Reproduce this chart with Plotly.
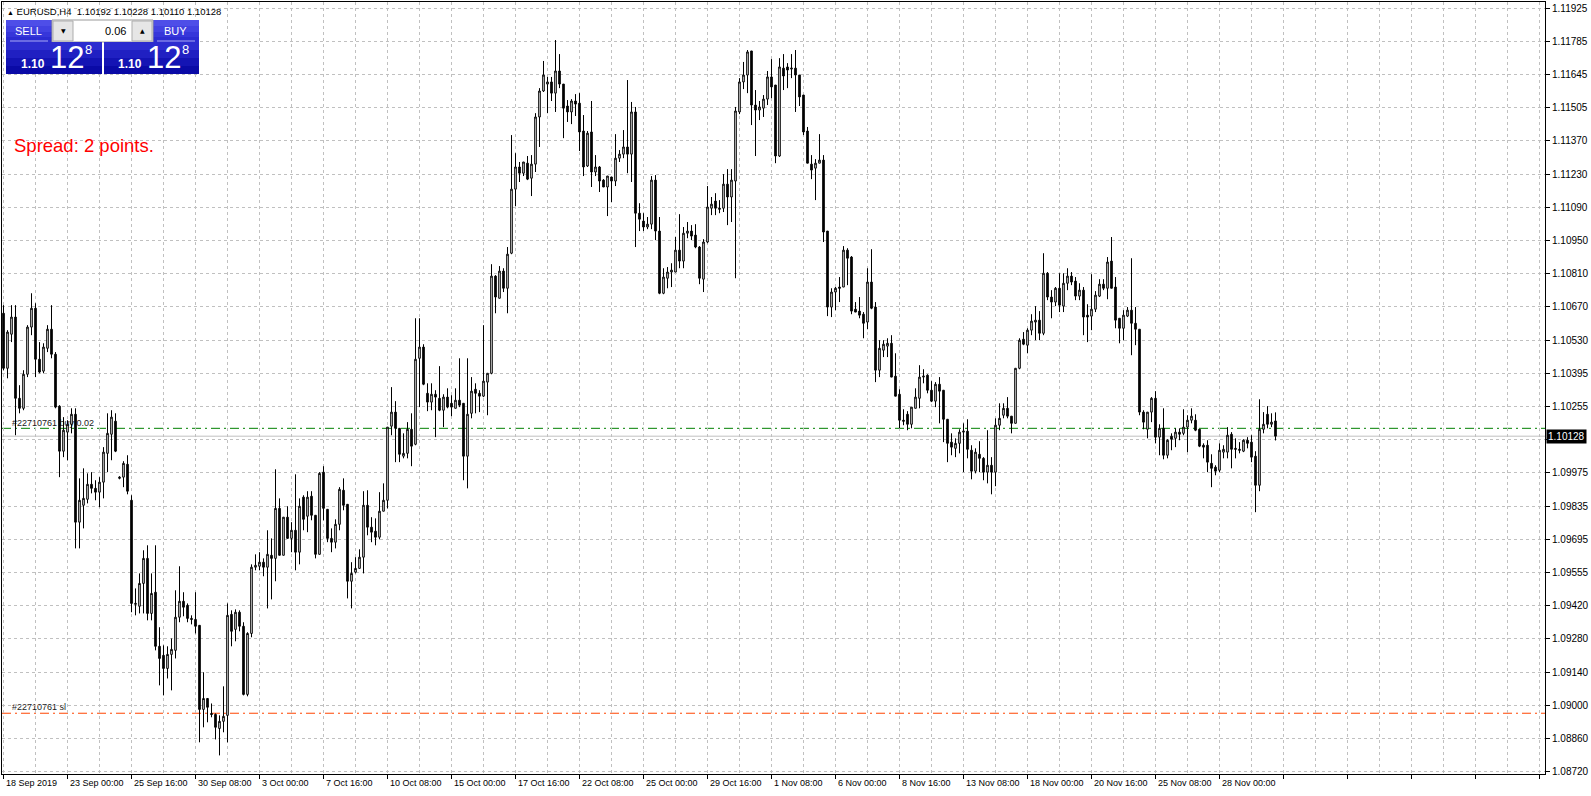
import plotly.graph_objects as go
import numpy as np

# ---------------- data (EURUSD H4) ----------------
open_ = [
1.10644,1.10413,1.10556,1.10628,1.10287,1.10245,1.10388,1.10586,1.10665,1.10451,
1.10401,1.10497,1.10577,1.10472,1.10254,1.10065,1.10145,1.10178,1.10220,1.09767,
1.09838,1.09863,1.09926,1.09909,1.09893,1.09935,1.10056,1.10136,1.10191,1.09951,
1.09956,1.10010,1.09859,1.09422,1.09414,1.09510,1.09615,1.09384,1.09473,1.09246,
1.09208,1.09153,1.09212,1.09229,1.09368,1.09435,1.09418,1.09363,1.09359,1.09334,
1.08981,1.09027,1.08964,1.08960,1.08901,1.08931,1.08956,1.09380,1.09317,1.09389,
1.09330,1.09044,1.09300,1.09578,1.09582,1.09599,1.09578,1.09628,1.09615,1.09825,
1.09628,1.09788,1.09699,1.09733,1.09641,1.09872,1.09792,1.09876,1.09796,1.09632,
1.09977,1.09821,1.09699,1.09683,1.09758,1.09901,1.09842,1.09519,1.09557,1.09573,
1.09620,1.09838,1.09746,1.09729,1.09704,1.09813,1.09859,1.10170,1.10229,1.10161,
1.10044,1.10056,1.10157,1.10094,1.10455,1.10502,1.10308,1.10271,1.10304,1.10287,
1.10237,1.10292,1.10266,1.10245,1.10279,1.10266,1.10044,1.10224,1.10325,1.10308,
1.10296,1.10355,1.10392,1.10800,1.10707,1.10821,1.10749,1.10896,1.11165,1.11258,
1.11232,1.11274,1.11211,1.11270,1.11468,1.11577,1.11606,1.11615,1.11568,1.11661,
1.11606,1.11514,1.11489,1.11535,1.11526,1.11409,1.11262,1.11405,1.11237,1.11258,
1.11203,1.11174,1.11216,1.11199,1.11295,1.11312,1.11342,1.11312,1.11489,1.11064,
1.11031,1.11006,1.11018,1.11203,1.10989,1.10728,1.10791,1.10817,1.10817,1.10909,
1.10863,1.10980,1.10989,1.10972,1.10922,1.10787,1.10943,1.11085,1.11115,1.11085,
1.11085,1.11186,1.11132,1.11199,1.11489,1.11615,1.11644,1.11745,1.11518,1.11497,
1.11505,1.11543,1.11636,1.11602,1.11304,1.11673,1.11678,1.11669,1.11673,1.11644,
1.11560,1.11409,1.11270,1.11253,1.11274,1.11287,1.10989,1.10670,1.10733,1.10754,
1.10754,1.10909,1.10880,1.10661,1.10653,1.10640,1.10607,1.10775,1.10670,1.10405,
1.10489,1.10506,1.10518,1.10380,1.10304,1.10195,1.10220,1.10178,1.10245,1.10287,
1.10376,1.10384,1.10321,1.10275,1.10346,1.10321,1.10199,1.10103,1.10077,1.10098,
1.10145,1.10149,1.10069,1.09981,1.10052,1.10035,1.09977,1.10006,1.09977,1.10174,
1.10216,1.10245,1.10212,1.10182,1.10413,1.10535,1.10510,1.10573,1.10607,1.10615,
1.10560,1.10812,1.10712,1.10691,1.10749,1.10674,1.10770,1.10800,1.10779,1.10716,
1.10741,1.10636,1.10632,1.10661,1.10716,1.10766,1.10749,1.10863,1.10754,1.10623,
1.10581,1.10632,1.10657,1.10602,1.10577,1.10229,1.10157,1.10229,1.10287,1.10124,
1.10161,1.10048,1.10128,1.10119,1.10145,1.10140,1.10166,1.10195,1.10195,1.10157,
1.10090,1.10090,1.10014,1.09998,1.09985,1.10061,1.10061,1.10136,1.10077,1.10073,
1.10065,1.10111,1.10103,1.10044,1.09922,1.10157,1.10220,1.10178,1.10192]

high = [
1.10678,1.10573,1.10678,1.10678,1.10342,1.10405,1.10594,1.10728,1.10686,1.10523,
1.10518,1.10594,1.10678,1.10481,1.10258,1.10208,1.10195,1.10245,1.10245,1.09951,
1.09993,1.09972,1.09977,1.09943,1.09956,1.10082,1.10224,1.10237,1.10224,1.09960,
1.10023,1.10048,1.09880,1.09489,1.09552,1.09649,1.09670,1.09552,1.09670,1.09326,
1.09250,1.09246,1.09279,1.09481,1.09582,1.09473,1.09426,1.09376,1.09473,1.09334,
1.09137,1.09027,1.09006,1.08964,1.08956,1.09078,1.09426,1.09397,1.09401,1.09397,
1.09347,1.09305,1.09590,1.09632,1.09641,1.09615,1.09733,1.09699,1.09989,1.09867,
1.09788,1.09834,1.09767,1.09968,1.09867,1.09880,1.09897,1.09897,1.09796,1.09977,
1.10002,1.09821,1.09741,1.09779,1.09914,1.09951,1.09842,1.09599,1.09620,1.09653,
1.09897,1.09901,1.09788,1.09783,1.09893,1.09930,1.10166,1.10334,1.10275,1.10161,
1.10140,1.10187,1.10224,1.10623,1.10623,1.10514,1.10350,1.10350,1.10321,1.10422,
1.10304,1.10329,1.10300,1.10329,1.10455,1.10266,1.10455,1.10376,1.10350,1.10321,
1.10594,1.10392,1.10850,1.10804,1.10842,1.10833,1.10922,1.11392,1.11316,1.11279,
1.11279,1.11304,1.11308,1.11484,1.11589,1.11703,1.11636,1.11636,1.11791,1.11732,
1.11606,1.11539,1.11543,1.11564,1.11568,1.11476,1.11409,1.11535,1.11308,1.11262,
1.11207,1.11220,1.11216,1.11396,1.11329,1.11413,1.11623,1.11531,1.11510,1.11106,
1.11064,1.11048,1.11220,1.11224,1.11048,1.10833,1.10838,1.10854,1.10964,1.11060,
1.11006,1.11027,1.11014,1.11018,1.10926,1.10955,1.11178,1.11132,1.11148,1.11119,
1.11228,1.11249,1.11249,1.11510,1.11631,1.11699,1.11749,1.11745,1.11581,1.11535,
1.11560,1.11661,1.11711,1.11602,1.11715,1.11732,1.11694,1.11732,1.11749,1.11644,
1.11560,1.11426,1.11308,1.11291,1.11396,1.11308,1.10989,1.10749,1.10754,1.10796,
1.10926,1.10917,1.10884,1.10691,1.10712,1.10649,1.10833,1.10913,1.10691,1.10531,
1.10531,1.10539,1.10552,1.10476,1.10325,1.10241,1.10233,1.10250,1.10329,1.10426,
1.10409,1.10388,1.10359,1.10355,1.10376,1.10321,1.10199,1.10140,1.10119,1.10157,
1.10182,1.10199,1.10090,1.10077,1.10107,1.10040,1.10153,1.10040,1.10203,1.10266,
1.10266,1.10292,1.10212,1.10413,1.10539,1.10565,1.10581,1.10640,1.10674,1.10653,
1.10896,1.10817,1.10741,1.10754,1.10812,1.10812,1.10833,1.10817,1.10796,1.10770,
1.10754,1.10682,1.10808,1.10737,1.10787,1.10787,1.10880,1.10964,1.10796,1.10623,
1.10657,1.10670,1.10875,1.10670,1.10577,1.10237,1.10229,1.10292,1.10317,1.10178,
1.10245,1.10115,1.10140,1.10161,1.10161,1.10241,1.10216,1.10245,1.10220,1.10157,
1.10098,1.10111,1.10052,1.10006,1.10098,1.10090,1.10166,1.10145,1.10119,1.10103,
1.10115,1.10124,1.10132,1.10065,1.10283,1.10229,1.10254,1.10224,1.10228]

low = [
1.10405,1.10371,1.10523,1.10132,1.10224,1.10237,1.10376,1.10552,1.10376,1.10392,
1.10392,1.10481,1.10455,1.10245,1.09956,1.10040,1.10027,1.10140,1.09657,1.09657,
1.09741,1.09846,1.09888,1.09859,1.09830,1.09867,1.09977,1.10027,1.10061,1.09947,
1.09914,1.09884,1.09389,1.09376,1.09384,1.09384,1.09355,1.09355,1.09229,1.09082,
1.09040,1.09111,1.09061,1.09195,1.09347,1.09372,1.09347,1.09338,1.09300,1.08843,
1.08906,1.08927,1.08948,1.08855,1.08788,1.08885,1.08843,1.09246,1.09267,1.09309,
1.09040,1.09036,1.09284,1.09565,1.09565,1.09540,1.09405,1.09443,1.09519,1.09628,
1.09628,1.09699,1.09641,1.09565,1.09590,1.09733,1.09725,1.09775,1.09615,1.09632,
1.09775,1.09683,1.09641,1.09657,1.09733,1.09817,1.09447,1.09405,1.09552,1.09573,
1.09552,1.09712,1.09683,1.09670,1.09695,1.09813,1.09825,1.10132,1.10019,1.10019,
1.10035,1.10035,1.10002,1.10090,1.10250,1.10342,1.10233,1.10237,1.10124,1.10233,
1.10166,1.10245,1.10212,1.10245,1.10250,1.09943,1.09909,1.10203,1.10224,1.10229,
1.10292,1.10216,1.10388,1.10644,1.10707,1.10733,1.10644,1.10892,1.11094,1.11195,
1.11220,1.11203,1.11136,1.11237,1.11342,1.11573,1.11484,1.11535,1.11489,1.11589,
1.11379,1.11447,1.11438,1.11472,1.11325,1.11220,1.11258,1.11174,1.11220,1.11153,
1.11174,1.11052,1.11111,1.11178,1.11279,1.11295,1.11232,1.11195,1.10922,1.10989,
1.10989,1.10997,1.10997,1.10951,1.10724,1.10724,1.10749,1.10754,1.10817,1.10833,
1.10833,1.10959,1.10951,1.10917,1.10766,1.10733,1.10938,1.11056,1.11056,1.11064,
1.11069,1.11014,1.11027,1.10791,1.11480,1.11585,1.11568,1.11434,1.11304,1.11455,
1.11468,1.11518,1.11547,1.11274,1.11300,1.11581,1.11589,1.11631,1.11489,1.11514,
1.11392,1.11274,1.11207,1.11119,1.11274,1.10943,1.10632,1.10628,1.10657,1.10691,
1.10754,1.10762,1.10640,1.10649,1.10623,1.10539,1.10577,1.10661,1.10355,1.10376,
1.10460,1.10460,1.10376,1.10296,1.10161,1.10174,1.10153,1.10161,1.10245,1.10245,
1.10350,1.10308,1.10271,1.10250,1.10182,1.10103,1.10019,1.10048,1.10040,1.10056,
1.09977,1.10035,1.09947,1.09972,1.09977,1.09943,1.09930,1.09884,1.09918,1.10153,
1.10203,1.10203,1.10140,1.10182,1.10409,1.10510,1.10476,1.10552,1.10531,1.10531,
1.10552,1.10699,1.10623,1.10674,1.10649,1.10649,1.10741,1.10762,1.10699,1.10699,
1.10552,1.10523,1.10573,1.10649,1.10712,1.10741,1.10703,1.10749,1.10581,1.10518,
1.10531,1.10628,1.10468,1.10510,1.10216,1.10157,1.10119,1.10187,1.10098,1.10048,
1.10031,1.10035,1.10069,1.10082,1.10111,1.10132,1.10061,1.10182,1.10149,1.10082,
1.10035,1.09977,1.09914,1.09964,1.09977,1.10035,1.10035,1.09993,1.10035,1.10056,
1.10061,1.10077,1.10019,1.09809,1.09897,1.10140,1.10161,1.10166,1.10110]

close = [
1.10413,1.10565,1.10628,1.10287,1.10245,1.10388,1.10586,1.10665,1.10451,1.10397,
1.10502,1.10577,1.10472,1.10250,1.10065,1.10153,1.10178,1.10220,1.09767,1.09859,
1.09867,1.09926,1.09909,1.09893,1.09935,1.10061,1.10140,1.10208,1.10065,1.09956,
1.10014,1.09897,1.09426,1.09426,1.09510,1.09615,1.09384,1.09468,1.09246,1.09195,
1.09153,1.09212,1.09233,1.09368,1.09435,1.09410,1.09363,1.09359,1.09330,1.08981,
1.09027,1.08990,1.08960,1.08906,1.08931,1.08952,1.09376,1.09309,1.09389,1.09330,
1.09044,1.09300,1.09578,1.09586,1.09599,1.09578,1.09632,1.09615,1.09825,1.09628,
1.09788,1.09699,1.09733,1.09641,1.09834,1.09779,1.09872,1.09796,1.09632,1.09972,
1.09825,1.09699,1.09683,1.09758,1.09905,1.09838,1.09519,1.09552,1.09573,1.09620,
1.09838,1.09746,1.09725,1.09704,1.09813,1.09859,1.10166,1.10229,1.10161,1.10052,
1.10056,1.10157,1.10086,1.10451,1.10502,1.10346,1.10271,1.10304,1.10292,1.10237,
1.10292,1.10250,1.10250,1.10279,1.10258,1.10044,1.10220,1.10317,1.10308,1.10296,
1.10359,1.10392,1.10800,1.10712,1.10821,1.10749,1.10892,1.11165,1.11258,1.11232,
1.11279,1.11207,1.11270,1.11468,1.11577,1.11644,1.11615,1.11568,1.11661,1.11606,
1.11505,1.11489,1.11535,1.11522,1.11405,1.11258,1.11400,1.11237,1.11258,1.11199,
1.11174,1.11220,1.11199,1.11295,1.11312,1.11342,1.11312,1.11489,1.11064,1.11039,
1.11006,1.11018,1.11203,1.10989,1.10728,1.10796,1.10817,1.10825,1.10909,1.10863,
1.10980,1.10989,1.10968,1.10922,1.10791,1.10943,1.11090,1.11102,1.11085,1.11081,
1.11186,1.11132,1.11203,1.11493,1.11615,1.11644,1.11741,1.11518,1.11497,1.11510,
1.11543,1.11636,1.11594,1.11304,1.11678,1.11640,1.11665,1.11673,1.11644,1.11552,
1.11405,1.11274,1.11245,1.11274,1.11287,1.10985,1.10670,1.10733,1.10749,1.10749,
1.10909,1.10875,1.10653,1.10649,1.10636,1.10602,1.10775,1.10665,1.10405,1.10497,
1.10514,1.10518,1.10376,1.10296,1.10195,1.10191,1.10178,1.10250,1.10292,1.10376,
1.10380,1.10321,1.10275,1.10346,1.10317,1.10199,1.10098,1.10082,1.10098,1.10145,
1.10149,1.10073,1.09981,1.10061,1.10035,1.09977,1.10006,1.09977,1.10174,1.10203,
1.10245,1.10212,1.10182,1.10413,1.10531,1.10514,1.10573,1.10611,1.10615,1.10560,
1.10812,1.10712,1.10691,1.10749,1.10678,1.10770,1.10800,1.10775,1.10716,1.10741,
1.10628,1.10628,1.10661,1.10720,1.10766,1.10749,1.10859,1.10749,1.10615,1.10581,
1.10636,1.10657,1.10602,1.10577,1.10229,1.10187,1.10229,1.10287,1.10124,1.10161,
1.10048,1.10111,1.10115,1.10145,1.10136,1.10166,1.10195,1.10212,1.10153,1.10086,
1.10082,1.10019,1.09993,1.09981,1.10069,1.10073,1.10132,1.10073,1.10073,1.10069,
1.10111,1.10098,1.10040,1.09922,1.10157,1.10178,1.10178,1.10187,1.10128]

date_labels = ["18 Sep 2019", "23 Sep 00:00", "25 Sep 16:00", "30 Sep 08:00", "3 Oct 00:00",
               "7 Oct 16:00", "10 Oct 08:00", "15 Oct 00:00", "17 Oct 16:00", "22 Oct 08:00",
               "25 Oct 00:00", "29 Oct 16:00", "1 Nov 08:00", "6 Nov 00:00", "8 Nov 16:00",
               "13 Nov 08:00", "18 Nov 00:00", "20 Nov 16:00", "25 Nov 08:00", "28 Nov 00:00"]
bars_per_label = 16

price_labels = ["1.11925", "1.11785", "1.11645", "1.11505", "1.11370", "1.11230", "1.11090",
                "1.10950", "1.10810", "1.10670", "1.10530", "1.10395", "1.10255", "",
                "1.09975", "1.09835", "1.09695", "1.09555", "1.09420", "1.09280", "1.09140",
                "1.09000", "1.08860", "1.08720"]

symbol = "EURUSD,H4"
bid = 1.10128
buy_price = 1.10161
sl_price = 1.08965
order_id = "#22710761"
lot = "0.06"
spread_text = "Spread: 2 points."

# ---------------- geometry ----------------
W, H = 1591, 796
ML, MR, MT, MB = 2, 46, 2, 22
PW, PH = W - ML - MR, H - MT - MB
FONT = "Liberation Sans"

def px(x):
    return (x - ML) / PW

def py(y):
    return 1 - (y - MT) / PH

n = len(open_)
idx = list(range(n))
high_c = [max(h, o, c) for h, o, c in zip(high, open_, close)]
low_c = [min(l, o, c) for l, o, c in zip(low, open_, close)]

fig = go.Figure()
fig.add_trace(go.Candlestick(
    x=idx, open=open_, high=high_c, low=low_c, close=close,
    increasing=dict(line=dict(color="black", width=1), fillcolor="white"),
    decreasing=dict(line=dict(color="black", width=1), fillcolor="black"),
    whiskerwidth=0, hoverinfo="skip", showlegend=False))

tick_vals = list(np.linspace(float(price_labels[0]), float(price_labels[-1]), len(price_labels)))
y_step = (tick_vals[0] - tick_vals[-1]) / (len(tick_vals) - 1)
px_per_step = 33.2
y_top = tick_vals[0] + y_step * 6.1 / px_per_step
y_bot = tick_vals[-1] - y_step * 2.4 / px_per_step

shapes = []
# order / bid lines (between grid and candles)
shapes.append(dict(type="line", xref="paper", yref="y", x0=0, x1=1, y0=bid, y1=bid,
                   line=dict(color="#C0C0C0", width=1), layer="between"))
shapes.append(dict(type="line", xref="paper", yref="y", x0=0, x1=1, y0=buy_price, y1=buy_price,
                   line=dict(color="#008000", width=1, dash="9px,4px,2px,4px"), layer="between"))
shapes.append(dict(type="line", xref="paper", yref="y", x0=0, x1=1, y0=sl_price, y1=sl_price,
                   line=dict(color="#FF4500", width=1, dash="9px,4px,2px,4px"), layer="between"))
# order labels (behind candles)
for txt, price in [(order_id + " buy 0.02", buy_price), (order_id + " sl", sl_price)]:
    shapes.append(dict(type="rect", xref="paper", yref="y", x0=px(8), x1=px(140),
                       y0=price + y_step * 1.5 / px_per_step, y1=price + y_step * 12 / px_per_step,
                       line=dict(width=0), fillcolor="rgba(0,0,0,0)", layer="between",
                       label=dict(text=txt, textposition="middle left", padding=1,
                                  font=dict(family=FONT, size=9, color="#1A1A1A"))))

# one-click trading panel
def rect(x0, y0, x1, y1, fill, line=None):
    d = dict(type="rect", xref="paper", yref="paper", x0=px(x0), x1=px(x1), y0=py(y1), y1=py(y0),
             fillcolor=fill, layer="above", line=dict(width=0))
    if line:
        d["line"] = dict(color=line, width=1)
    shapes.append(d)

for bx0, bx1 in [(6, 52), (153, 199)]:
    for (y0, y1, col) in [(20, 26, "#4E4EE8"), (26, 32, "#4242E2"), (32, 37, "#3636DA"), (37, 42, "#2C2CD2")]:
        rect(bx0, y0, bx1, y1, col)
    shapes.append(dict(type="line", xref="paper", yref="paper", x0=px(bx0 + 4), x1=px(bx1 - 4),
                       y0=py(41), y1=py(41), line=dict(color="#A8A8F4", width=1), layer="above"))
rect(52, 20, 153, 42, "#FFFFFF", "#9A9A9A")
rect(53, 21, 73, 41, "#E6E6E6", "#ADADAD")
rect(132, 21, 152, 41, "#E6E6E6", "#ADADAD")
for bx0, bx1 in [(6, 102), (104, 199)]:
    for (y0, y1, col) in [(42, 50, "#2C2CD0"), (50, 58, "#2020C2"), (58, 66, "#1414B4"), (66, 74, "#0A0AA6")]:
        rect(bx0, y0, bx1, y1, col)

ann = []
def text(x, y, s, size, color="black", xanchor="center", yanchor="middle", bold=False, family=FONT):
    ann.append(dict(xref="paper", yref="paper", x=px(x), y=py(y), text=("<b>%s</b>" % s) if bold else s,
                    showarrow=False, xanchor=xanchor, yanchor=yanchor,
                    font=dict(family=family, size=size, color=color)))

text(5, 11, '<span style="font-size:7px">&#9650;</span> ' + symbol + "&nbsp; " +
     " ".join("%.5f" % v for v in [open_[-1], high_c[-1], low_c[-1], close[-1]]), 9.5, xanchor="left")
text(28.5, 30.5, "SELL", 11, "white")
text(175.5, 30.5, "BUY", 11, "white")
text(128, 30.5, lot, 11, "black", xanchor="right")
text(63, 30, "&#9660;", 6, "black", family="DejaVu Sans")
text(142, 30, "&#9650;", 6, "black", family="DejaVu Sans")
for cx in [0, 97]:
    text(32.5 + cx, 64.5, "1.10", 12, "white", bold=True)
    text(66.5 + cx, 57, "12", 31, "white")
    text(88 + cx, 49.5, "8", 13, "white")
text(12, 145, spread_text, 18.5, "#FF0000", xanchor="left")

# x labels, left-aligned at their tick like the terminal
for k, lab in enumerate(date_labels):
    ann.append(dict(xref="x", yref="paper", x=k * bars_per_label, y=0, text=lab, showarrow=False,
                    xanchor="left", yanchor="top", xshift=0, yshift=-2,
                    font=dict(family=FONT, size=9, color="black")))
# current price marker
ann.append(dict(xref="paper", yref="y", x=1, y=bid, text="%.5f" % bid, showarrow=False,
                xanchor="left", yanchor="middle", xshift=1, bgcolor="black", borderpad=1,
                font=dict(family=FONT, size=10, color="white")))

grid = dict(showgrid=True, gridcolor="#C0C0C0", gridwidth=1, griddash="3px,3px")
fig.update_layout(
    template="none",
    width=W, height=H,
    margin=dict(l=ML, r=MR, t=MT, b=MB, pad=0),
    paper_bgcolor="white", plot_bgcolor="white",
    showlegend=False, hovermode=False, dragmode=False,
    boxgap=0.42,
    xaxis=dict(type="linear", range=[-0.375, (PW - 1.5) / 4.0],
               tickmode="linear", tick0=0, dtick=bars_per_label,
               ticks="outside", ticklen=4, tickcolor="black", tickwidth=1,
               showticklabels=False, zeroline=False,
               showline=True, linecolor="black", linewidth=1, mirror=True,
               rangeslider=dict(visible=False), automargin=False, fixedrange=True,
               minor=dict(dtick=bars_per_label // 2, tick0=0, showgrid=True, gridcolor="#C0C0C0",
                          griddash="3px,3px", ticks=""),
               **grid),
    yaxis=dict(side="right", range=[y_bot, y_top], tickmode="array",
               tickvals=tick_vals, ticktext=price_labels,
               ticks="outside", ticklen=4, tickcolor="black", tickwidth=1,
               tickfont=dict(family=FONT, size=10, color="black"),
               zeroline=False, showline=True, linecolor="black", linewidth=1, mirror=True,
               automargin=False, fixedrange=True, **grid),
    shapes=shapes,
    annotations=ann,
)

fig.write_html("out.html", config={"displayModeBar": False},
               post_script="document.body.style.margin='0';document.body.style.overflow='hidden';")
